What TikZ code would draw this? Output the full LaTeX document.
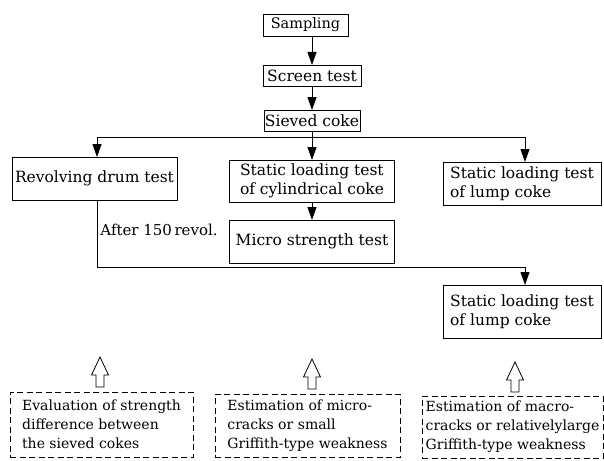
\documentclass[tikz,border=0pt]{standalone}
\usepackage{fontspec}
\setmainfont{DejaVu Serif}
\usetikzlibrary{arrows.meta}
\begin{document}
\begin{tikzpicture}[x=1pt,y=-1pt,
  font=\fontsize{15.5}{19}\selectfont,
  line width=0.9pt,
  box/.style={draw, rectangle, inner sep=0pt, outer sep=0pt, align=left},
  dbox/.style={draw, rectangle, inner sep=0pt, outer sep=0pt, align=left,
    dash pattern=on 6pt off 3.5pt, font=\fontsize{14}{19}\selectfont},
  arr/.style={-{Triangle[width=9pt,length=13pt]}},
  hollowup/.pic={\draw[line width=0.8pt] (-4,0) -- (-4,-12) -- (-8.5,-12) -- (0,-30)
      -- (8.5,-12) -- (4,-12) -- (4,0) -- cycle;}]
\useasboundingbox (0,0) rectangle (604,460);

% top chain
\node[box, minimum width=85pt, minimum height=22pt, font=\fontsize{14.5}{19}\selectfont] (samp) at (305.5,25) {Sampling};
\node[box, minimum width=98pt, minimum height=21pt] (scr) at (312,75.5) {Screen test};
\node[box, minimum width=96pt, minimum height=21pt] (sie) at (312,120.5) {Sieved coke};

% second row
\node[box, minimum width=165pt, minimum height=43pt] (rev) at (94.5,178.5) {Revolving drum test};
\node[box, minimum width=165pt, minimum height=42pt] (cyl) at (312,181) {Static loading test\\of cylindrical coke};
\node[box, minimum width=158pt, minimum height=43pt] (lump1) at (522,183.5) {Static loading test\\ of lump coke};
\node[box, minimum width=165pt, minimum height=43pt] (mic) at (312,241.5) {Micro strength test};
\node[box, minimum width=158pt, minimum height=53pt] (lump2) at (522,311.5) {Static loading test\\ of lump coke};

\node[anchor=west, inner sep=0pt, font=\fontsize{15}{19}\selectfont] (after) at (100,230) {After 150\,revol.};

% connectors
\draw[arr] (samp.south -| scr.north) -- (scr.north);
\draw[arr] (scr.south) -- (sie.north);
\coordinate (jl) at (97,137);
\coordinate (jr) at (525,137);
\draw (sie.south) -- (sie.south |- jl);
\draw (jl) -- (jr);
\draw[arr] (sie.south |- jl) -- (sie.south |- cyl.north);
\draw[arr] (jl) -- (jl |- rev.north);
\draw[arr] (jr) -- (jr |- lump1.north);
\draw[arr] (cyl.south) -- (mic.north);
\coordinate (c1) at (97,267);
\coordinate (c2) at (525,267);
\draw[arr] (rev.south -| jl) -- (c1) -- (c2) -- (c2 |- lump2.north);

% dashed boxes
\node[dbox, minimum width=183pt, minimum height=65pt] (d1) at (101.5,424.5)
  {Evaluation of strength\\difference between\\the sieved cokes};
\node[dbox, minimum width=185pt, minimum height=63pt] (d2) at (307.5,425.5)
  {Estimation of micro-\\cracks or small\\Griffith-type weakness};
\node[dbox, minimum width=181pt, minimum height=62pt] (d3) at (512.5,427)
  {Estimation of macro-\\cracks or relativelylarge\\Griffith-type weakness};

% hollow arrows
\pic at (100,387) {hollowup};
\pic at (312,389) {hollowup};
\pic at (515,392) {hollowup};
\end{tikzpicture}
\end{document}
